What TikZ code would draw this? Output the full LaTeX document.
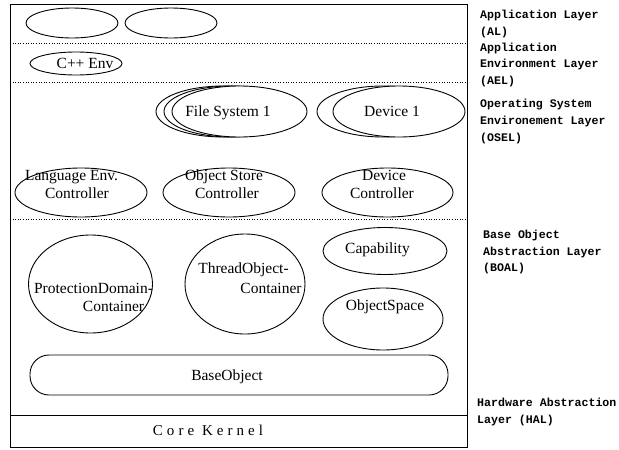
\documentclass[tikz,border=0pt]{standalone}
\usepackage{fontspec}
\setmainfont{Liberation Serif}
\newfontfamily\lblfont{Liberation Mono}
\newfontfamily\kernfont{Liberation Serif}[LetterSpace=27]
\usetikzlibrary{shapes.geometric}

\tikzset{
  comp/.style={draw, ellipse, fill=white, line width=0.9pt, inner sep=0pt},
  txt/.style={anchor=base, inner sep=0pt, font=\fontsize{15.5}{18}\selectfont},
  lbl/.style={anchor=base west, inner sep=0pt, font=\lblfont\bfseries\fontsize{11.6}{14}\selectfont},
  sep/.style={line width=0.6pt, dash pattern=on 1pt off 1.6pt},
}
\newcommand{\comp}[5]{\node[comp, minimum width=#4pt, minimum height=#5pt] (#1) at (#2,#3) {};}

\begin{document}
\begin{tikzpicture}[x=1pt, y=-1pt]
\useasboundingbox (0,0) rectangle (619,450);

% outer frame and layer borders
\node[draw, line width=0.9pt, minimum width=457pt, minimum height=443pt, inner sep=0pt, anchor=north west] (frame) at (10,4) {};
\coordinate (s1l) at (10,43);  \coordinate (s1r) at (467,43);
\coordinate (s2l) at (10,82);  \coordinate (s2r) at (467,82);
\coordinate (s3l) at (10,219); \coordinate (s3r) at (467,219);
\coordinate (hl) at (10,415);  \coordinate (hr) at (467,415);
\draw[sep] (s1l) -- (s1r);
\draw[sep] (s2l) -- (s2r);
\draw[sep] (s3l) -- (s3r);
\draw[line width=0.9pt] (hl) -- (hr);

% application layer
\comp{app1}{72}{23}{92}{30}
\comp{app2}{171}{23}{92}{30}

% application environment layer
\comp{cpp}{76}{63.5}{92}{23}
\node[txt] (cpptxt) at (85,68.5) {C++ Env};

% operating system environment layer
\comp{fs3}{223.5}{111.5}{135}{51}
\comp{fs2}{231.5}{111.5}{135}{51}
\comp{fs1}{239.5}{111.5}{135}{51}
\node[txt] (fstxt) at (228,116) {File System 1};
\comp{dev2}{383}{111.5}{132}{51}
\comp{dev1}{399}{111.5}{132}{51}
\node[txt] (devtxt) at (392,116) {Device 1};

\comp{lec}{81}{192.5}{132}{49}
\node[txt] (lec1) at (71.5,180) {Language Env.};
\node[txt] (lec2) at (77,198) {Controller};
\comp{osc}{229}{192.5}{132}{49}
\node[txt] (osc1) at (224,180) {Object Store};
\node[txt] (osc2) at (227,198) {Controller};
\comp{dc}{387.5}{192.5}{131}{49}
\node[txt] (dc1) at (384,180) {Device};
\node[txt] (dc2) at (382,198) {Controller};

% base object abstraction layer
\comp{pdc}{90.5}{284}{124}{98}
\node[txt] (pdc1) at (93.5,293) {ProtectionDomain-};
\node[txt] (pdc2) at (113.5,311) {Container};
\comp{toc}{245}{284}{120}{100}
\node[txt] (toc1) at (243.5,273) {ThreadObject-};
\node[txt] (toc2) at (271,293) {Container};
\comp{cap}{385}{251}{124}{47}
\node[txt] (captxt) at (377.5,253) {Capability};
\comp{osp}{383}{319}{120}{62}
\node[txt] (osptxt) at (385,310) {ObjectSpace};
\node[draw, line width=0.9pt, rounded corners=19pt, minimum width=418pt, minimum height=40pt, inner sep=0pt] (bo) at (239,375) {};
\node[txt] (botxt) at (227,380) {BaseObject};

% hardware abstraction layer
\node[txt, font=\kernfont\fontsize{15}{18}\selectfont] (ck) at (208,435) {Core Kernel};

% layer names
\node[lbl] (al1) at (480,18.5) {Application Layer};
\node[lbl] (al2) at (480,35.5) {(AL)};
\node[lbl] (ael1) at (480,51.5) {Application};
\node[lbl] (ael2) at (480,67.5) {Environment Layer};
\node[lbl] (ael3) at (480,84.5) {(AEL)};
\node[lbl] (os1) at (480,107.5) {Operating System};
\node[lbl] (os2) at (480,124.5) {Environement Layer};
\node[lbl] (os3) at (480,141.5) {(OSEL)};
\node[lbl] (bo1) at (483,238.5) {Base Object};
\node[lbl] (bo2) at (483,255.5) {Abstraction Layer};
\node[lbl] (bo3) at (483,271.5) {(BOAL)};
\node[lbl] (hal1) at (477,406.5) {Hardware Abstraction};
\node[lbl] (hal2) at (477,423.5) {Layer (HAL)};
\end{tikzpicture}
\end{document}
